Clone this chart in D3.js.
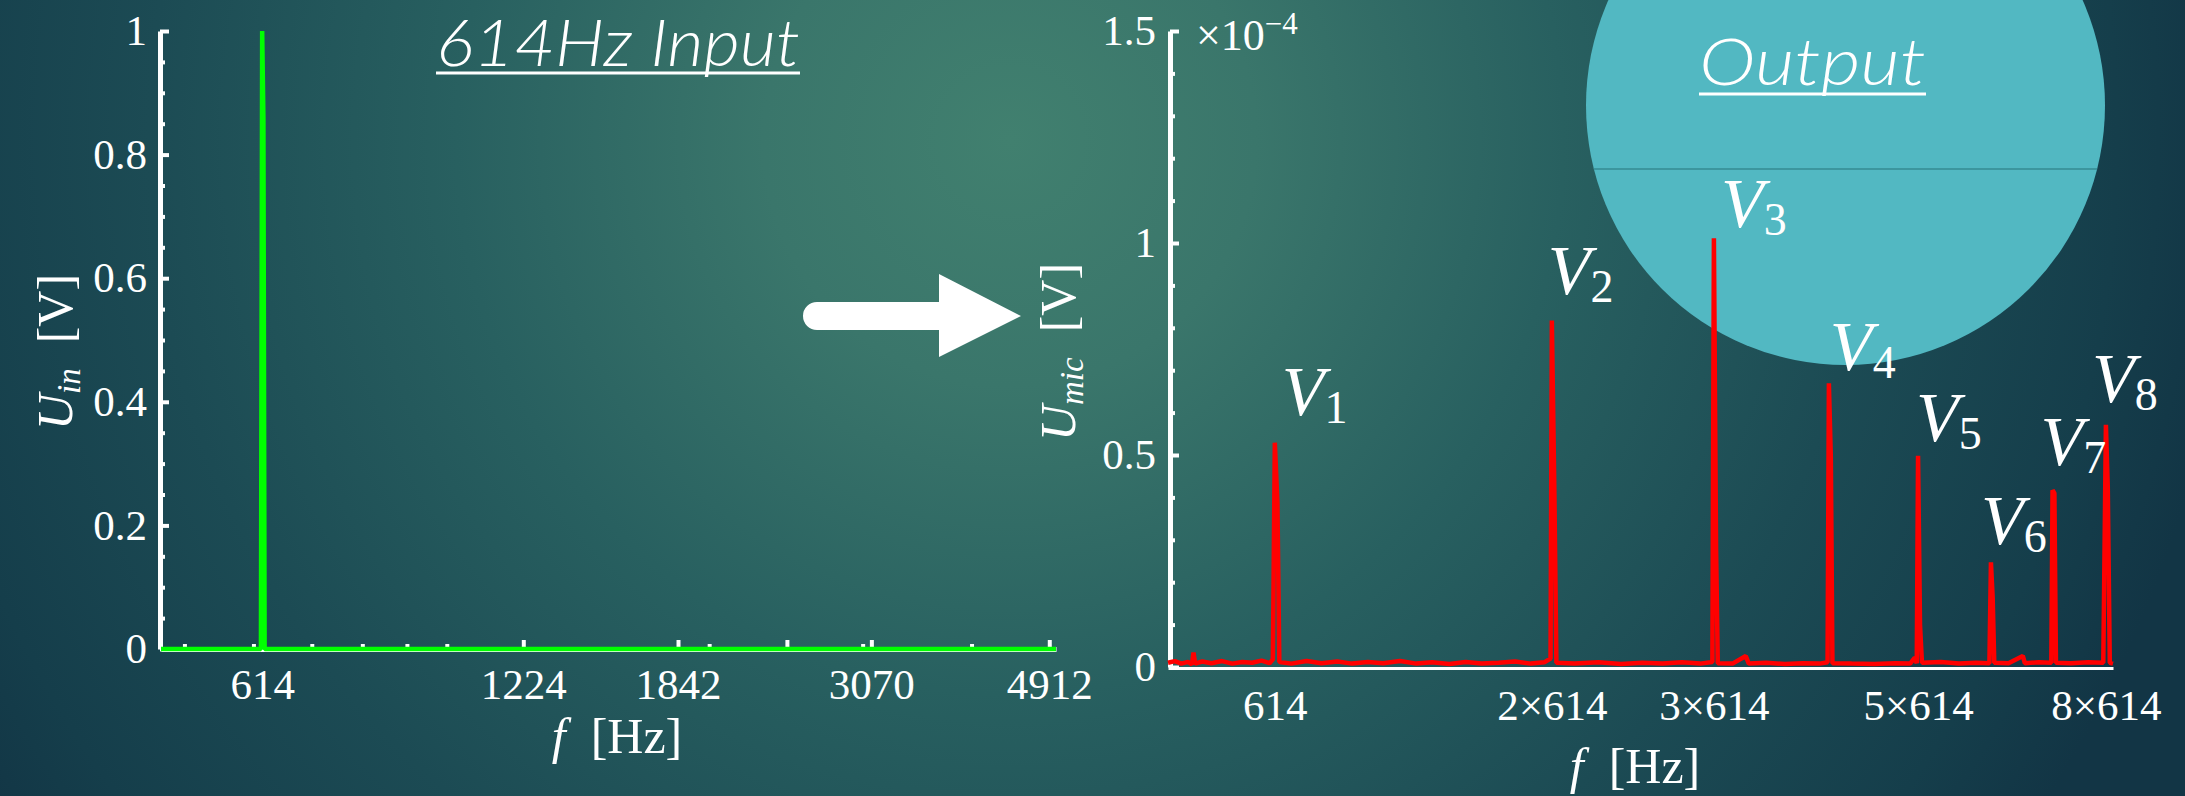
<!DOCTYPE html>
<html>
<head>
<meta charset="utf-8">
<script src="https://cdn.jsdelivr.net/npm/d3@7"></script>
<style>
  html, body { margin: 0; padding: 0; background: #17404c; overflow: hidden; }
  svg { display: block; }
</style>
</head>
<body>
<svg id="chart" width="2185" height="796"></svg>
<script>
// ---------------- data ----------------
// Input spectrum: pure 614 Hz tone (amplitude in V)
const inputFreq = [470, 612, 614, 616, 618, 5000];
const inputAmp  = [0, 0, 1.0, 0.86, 0, 0];

// Input axis ticks (Hz)
const inputTicks      = [614, 1224, 1842, 2456, 3070, 4912];
const inputTickLabels = ["614", "1224", "1842", "", "3070", "4912"];
const inputMinorTicks = [500, 600, 700, 800, 900, 1000, 2000, 3000, 4000];
const inputYTicks     = [0, 0.2, 0.4, 0.6, 0.8, 1];
const inputYMinor     = [0.05, 0.1, 0.15, 0.25, 0.3, 0.35, 0.45, 0.5, 0.55,
                         0.65, 0.7, 0.75, 0.85, 0.9, 0.95];

// Microphone spectrum (frequency in Hz, amplitude in units of 1e-4 V)
const outFreq = [470, 478, 486, 494, 499, 501, 503, 512, 524, 538, 552, 566, 580, 594, 606, 611,
                 614, 618, 621, 640, 665, 690, 718, 745, 775, 805, 840, 875, 910, 950, 990, 1030,
                 1075, 1120, 1165, 1205, 1224, 1228, 1236, 1242, 1300, 1380, 1460, 1540, 1620,
                 1700, 1780, 1835, 1842, 1852, 1860, 1930, 1995, 2010, 2100, 2200, 2300, 2400,
                 2448, 2456, 2468, 2478, 2600, 2750, 2900, 3010, 3045, 3060, 3070, 3085, 3100,
                 3250, 3400, 3550, 3670, 3684, 3700, 3715, 3850, 3990, 4010, 4150, 4285, 4298,
                 4318, 4335, 4500, 4700, 4880, 4912, 4935, 4960, 5000];
const outAmp  = [0.010, 0.014, 0.008, 0.012, 0.006, 0.034, 0.008, 0.013, 0.009, 0.014, 0.008,
                 0.012, 0.010, 0.015, 0.009, 0.018,
                 0.529, 0.387, 0.012, 0.008, 0.014, 0.009, 0.013, 0.008, 0.012, 0.009, 0.014,
                 0.008, 0.011, 0.007, 0.012, 0.008,
                 0.010, 0.013, 0.008, 0.011, 0.020, 0.817, 0.400, 0.010, 0.008, 0.011, 0.007,
                 0.010, 0.008,
                 0.011, 0.008, 0.012, 1.011, 0.280, 0.009, 0.008, 0.026, 0.008, 0.010, 0.007,
                 0.009, 0.008,
                 0.011, 0.669, 0.495, 0.009, 0.008, 0.007, 0.009, 0.008, 0.022, 0.009, 0.498,
                 0.100, 0.010,
                 0.012, 0.008, 0.010, 0.009, 0.247, 0.165, 0.010, 0.009, 0.026, 0.009, 0.011,
                 0.010, 0.417,
                 0.410, 0.010, 0.009, 0.011, 0.010, 0.571, 0.425, 0.010, 0.008];

// Harmonics of the 614 Hz fundamental that get a V_n label
const fundamental = 614;
const harmonicOrder = [1, 2, 3, 4, 5, 6, 7, 8];

// Output axis ticks
const outTicks      = [614, 1228, 1842, 3070, 4912];
const outTickLabels = ["614", "2×614", "3×614", "5×614", "8×614"];
const outYTicks     = [0, 0.5, 1, 1.5];
const outYLabels    = ["0", "0.5", "1", "1.5"];
const outYMinor     = [0.1, 0.2, 0.3, 0.4, 0.6, 0.7, 0.8, 0.9, 1.1, 1.2, 1.3, 1.4];

// ---------------- layout ----------------
const W = 2185, H = 796;
const serif = "'Liberation Serif', 'Times New Roman', serif";
const sans  = "Lato, 'Open Sans', 'Noto Sans', sans-serif";
// label nudges (px) relative to each peak top: [dx, dy]
const labelNudge = [[7, -28], [-4, -27], [7, -11], [1, -13], [-2, -15], [-10, -18], [-12, -25], [-14, -23]];

const svg = d3.select("#chart");
const defs = svg.append("defs");

// background glow
const grad = defs.append("radialGradient")
  .attr("id", "bg").attr("gradientUnits", "userSpaceOnUse")
  .attr("cx", 1010).attr("cy", 140).attr("r", 1230);
[[0, "#41806f"], [0.2, "#3a766b"], [0.45, "#286060"], [0.7, "#1c4b54"],
 [0.9, "#153e4b"], [1, "#123545"]].forEach(([o, c]) =>
  grad.append("stop").attr("offset", o).attr("stop-color", c));
svg.append("rect").attr("width", W).attr("height", H).attr("fill", "url(#bg)");

// ---------------- "Output" bubble ----------------
const bub = { cx: 1845.5, cy: 105.5, r: 259.5, chordY: 169 };
svg.append("circle").attr("cx", bub.cx).attr("cy", bub.cy).attr("r", bub.r).attr("fill", "#52b8c2");
const half = Math.sqrt(bub.r * bub.r - (bub.chordY - bub.cy) ** 2);
svg.append("line")
  .attr("x1", bub.cx - half).attr("x2", bub.cx + half)
  .attr("y1", bub.chordY).attr("y2", bub.chordY)
  .attr("stroke", "#3c969e").attr("stroke-width", 2);

// ---------------- titles ----------------
function title(text, x, y, width, ulY) {
  svg.append("text").attr("x", x).attr("y", y)
    .attr("font-family", sans).attr("font-style", "italic").attr("font-weight", 300)
    .attr("font-size", 66).attr("fill", "#fff")
    .attr("textLength", width).attr("lengthAdjust", "spacingAndGlyphs")
    .text(text);
  svg.append("line").attr("x1", x).attr("x2", x + width).attr("y1", ulY).attr("y2", ulY)
    .attr("stroke", "#fff").attr("stroke-width", 3);
}
title("614Hz Input", 436, 66, 364, 73);
title("Output", 1699, 85, 227, 94);

// ---------------- arrow ----------------
svg.append("path")
  .attr("d", "M817,302 H939 V274 L1021,316 L939,357 V330 H817 A14,14 0 0 1 817,302 Z")
  .attr("fill", "#fff");

// ---------------- helpers ----------------
function styleAxis(g, width) {
  g.selectAll(".domain").attr("stroke", "#fff").attr("stroke-width", width);
  g.selectAll(".tick line").attr("stroke", "#fff").attr("stroke-width", 4);
  g.selectAll(".tick text").attr("fill", "#fff").attr("font-family", serif).attr("font-size", 43);
}
const noDomain = g => g.select(".domain").remove();

function axisLabel(x, y, sym, sub, rotate) {
  const t = svg.append("text")
    .attr("transform", rotate ? `translate(${x},${y}) rotate(-90)` : `translate(${x},${y})`)
    .attr("text-anchor", "middle").attr("font-family", serif).attr("font-size", 50).attr("fill", "#fff");
  t.append("tspan").attr("font-style", "italic").text(sym);
  if (sub) {
    t.append("tspan").attr("font-style", "italic").attr("font-size", 33).attr("dy", 8).text(sub);
    t.append("tspan").attr("dy", -8).text("\u2002[V]");
  } else {
    t.append("tspan").text("\u2002[Hz]");
  }
}

// ---------------- input panel ----------------
const xIn = d3.scaleLog().domain([470, 5000]).range([161, 1056]);
const yIn = d3.scaleLinear().domain([0, 1]).range([649, 31]);

const gInY = svg.append("g").attr("transform", "translate(160,0)");
gInY.append("g").call(d3.axisLeft(yIn).tickValues(inputYMinor).tickSize(-5).tickFormat("")).call(noDomain);
gInY.append("g").call(d3.axisLeft(yIn).tickValues(inputYTicks).tickSizeInner(-9).tickSizeOuter(0)
  .tickPadding(13).tickFormat(d => String(d)));
styleAxis(gInY, 5);

const gInX = svg.append("g").attr("transform", "translate(0,649)");
gInX.append("g").call(d3.axisBottom(xIn).tickValues(inputMinorTicks).tickSize(-5).tickFormat("")).call(noDomain);
gInX.append("g").call(d3.axisBottom(xIn).tickValues(inputTicks).tickSizeInner(-9).tickSizeOuter(0)
  .tickPadding(19).tickFormat((d, i) => inputTickLabels[i]));
styleAxis(gInX, 5);

const inLine = d3.line().x((d, i) => xIn(inputFreq[i])).y((d, i) => yIn(inputAmp[i]));
svg.append("path").datum(inputFreq).attr("d", inLine)
  .attr("fill", "none").attr("stroke", "#00ff00").attr("stroke-width", 4.5)
  .attr("stroke-linejoin", "bevel");

axisLabel(72, 352, "U", "in", true);
axisLabel(617, 753, "f", null, false);

// ---------------- output panel ----------------
const xOut = d3.scaleLog().domain([470, 5000]).range([1168, 2113]);
const yOut = d3.scaleLinear().domain([0, 1.5]).range([667, 31]);

const gOutY = svg.append("g").attr("transform", "translate(1170,0)");
gOutY.append("g").call(d3.axisLeft(yOut).tickValues(outYMinor).tickSize(-5).tickFormat("")).call(noDomain);
gOutY.append("g").call(d3.axisLeft(yOut).tickValues(outYTicks).tickSizeInner(-9).tickSizeOuter(0)
  .tickPadding(14).tickFormat((d, i) => outYLabels[i]));
styleAxis(gOutY, 5);

const gOutX = svg.append("g").attr("transform", "translate(0,668)");
gOutX.call(d3.axisBottom(xOut).tickValues(outTicks).tickSizeInner(0).tickSizeOuter(0)
  .tickPadding(21).tickFormat((d, i) => outTickLabels[i]));
styleAxis(gOutX, 3);

// exponent
const ex = svg.append("text").attr("x", 1196).attr("y", 50)
  .attr("font-family", serif).attr("font-size", 44).attr("fill", "#fff");
ex.append("tspan").text("×10");
ex.append("tspan").attr("font-size", 31).attr("dy", -16).text("−4");

const outLine = d3.line().x((d, i) => xOut(outFreq[i])).y((d, i) => yOut(outAmp[i]));
svg.append("path").datum(outFreq).attr("d", outLine)
  .attr("fill", "none").attr("stroke", "#ff0000").attr("stroke-width", 4.5)
  .attr("stroke-linejoin", "bevel");

// V_n labels at each harmonic peak
harmonicOrder.forEach((n, i) => {
  const f = n * fundamental;
  const k = outFreq.indexOf(f);
  const px = xOut(f), py = yOut(outAmp[k]);
  const t = svg.append("text").attr("x", px + labelNudge[i][0]).attr("y", py + labelNudge[i][1])
    .attr("font-family", serif).attr("font-size", 70).attr("fill", "#fff");
  t.append("tspan").attr("font-style", "italic").text("V");
  t.append("tspan").attr("font-size", 46).attr("dy", 8).text(n);
});

axisLabel(1075, 352, "U", "mic", true);
axisLabel(1635, 783, "f", null, false);
</script>
</body>
</html>
